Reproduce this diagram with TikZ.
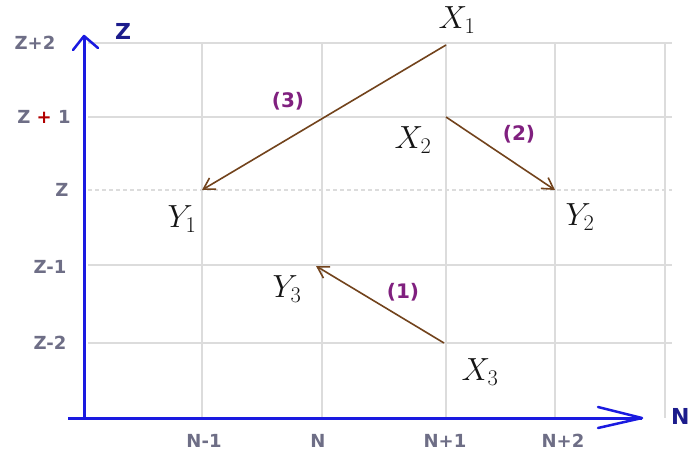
\RequirePackage{fix-cm}
\documentclass[tikz,border=0pt]{standalone}
\usepackage{fontspec}
\setsansfont{DejaVu Sans}
\usetikzlibrary{arrows.meta,calc}
\definecolor{axisblue}{HTML}{1A1AE0}
\definecolor{axistxt}{HTML}{1C1C8C}
\definecolor{gridgray}{HTML}{DCDCDC}
\definecolor{ticktxt}{HTML}{6E6E86}
\definecolor{brownarr}{HTML}{72431C}
\definecolor{purplelbl}{HTML}{80207F}
\tikzset{
  gridline/.style={gridgray, line width=1.2pt},
  gridzline/.style={gridgray, line width=1.2pt, dash pattern=on 4pt off 3pt},
  axisline/.style={axisblue, line width=3pt},
  transarrow/.style={brownarr, line width=1.6pt, -{Straight Barb[length=11pt,width=13pt,line width=1.6pt]}},
  ticklbl/.style={ticktxt, font=\sffamily\bfseries\fontsize{18}{20}\selectfont, inner sep=0pt},
  axislbl/.style={axistxt, font=\sffamily\bfseries\fontsize{22}{25}\selectfont, inner sep=0pt},
  ptlbl/.style={black!92, font=\fontsize{32}{36}\selectfont, inner sep=0pt},
  steplbl/.style={purplelbl, font=\sffamily\bfseries\fontsize{20}{23}\selectfont, inner sep=0pt}
}
\begin{document}
\begin{tikzpicture}[x=1pt,y=-1pt]
\useasboundingbox (0,0) rectangle (691,455);
\fill[white] (0,0) rectangle (691,455);
% grid
\foreach \gx in {202,322,446,555,665} \draw[gridline] (\gx,43) -- (\gx,418);
\foreach \gy in {43,117,265,343} \draw[gridline] (88,\gy) -- (672,\gy);
\draw[gridzline] (88,190) -- (672,190);
% axes
\coordinate (O) at (84,418);
\coordinate (ztip) at (84,36);
\coordinate (ntip) at (642,418);
\coordinate (nstart) at (68,418);
\draw[axisline] (O) -- (ztip);
\draw[axisline] (nstart) -- (ntip);
\draw[axisblue, line width=2.5pt, line cap=round, line join=round] ($(ztip)+(-11,14)$) -- (ztip) -- ($(ztip)+(14,12)$);
\draw[axisblue, line width=2.5pt, line cap=round, line join=round] ($(ntip)+(-44,-11)$) -- (ntip) -- ($(ntip)+(-44,10)$);
\node[axislbl] (zl) at (123,31) {Z};
\node[axislbl, anchor=west] (nl) at (671,416) {N};
% tick labels
\node[ticklbl] (t1) at (35,43) {Z+2};
\node[ticklbl] (t2) at (44,117) {Z \textcolor{red!70!black}{+} 1};
\node[ticklbl] (t3) at (62,190) {Z};
\node[ticklbl] (t4) at (50,267) {Z-1};
\node[ticklbl] (t5) at (50,343) {Z-2};
\node[ticklbl] (b1) at (204,441) {N-1};
\node[ticklbl] (b2) at (318,441) {N};
\node[ticklbl] (b3) at (445,441) {N+1};
\node[ticklbl] (b4) at (563,441) {N+2};
% points
\coordinate (X1) at (446,45);
\coordinate (Y1) at (202,190);
\coordinate (X2) at (446,117);
\coordinate (Y2) at (555,190);
\coordinate (X3) at (444,343);
\coordinate (Y3) at (316,266);
\node[ptlbl] (lx1) at (457,20) {$X_1$};
\node[ptlbl] (ly1) at (182,219) {$Y_1$};
\node[ptlbl] (lx2) at (413,140) {$X_2$};
\node[ptlbl] (ly2) at (580,217) {$Y_2$};
\node[ptlbl] (lx3) at (480,372) {$X_3$};
\node[ptlbl] (ly3) at (287,289) {$Y_3$};
% transitions
\draw[transarrow] (X1) -- (Y1);
\draw[transarrow] (X2) -- (Y2);
\draw[transarrow] (X3) -- (Y3);
\node[steplbl] (s3) at (288,101) {(3)};
\node[steplbl] (s2) at (519,134) {(2)};
\node[steplbl] (s1) at (403,292) {(1)};
\end{tikzpicture}
\end{document}
